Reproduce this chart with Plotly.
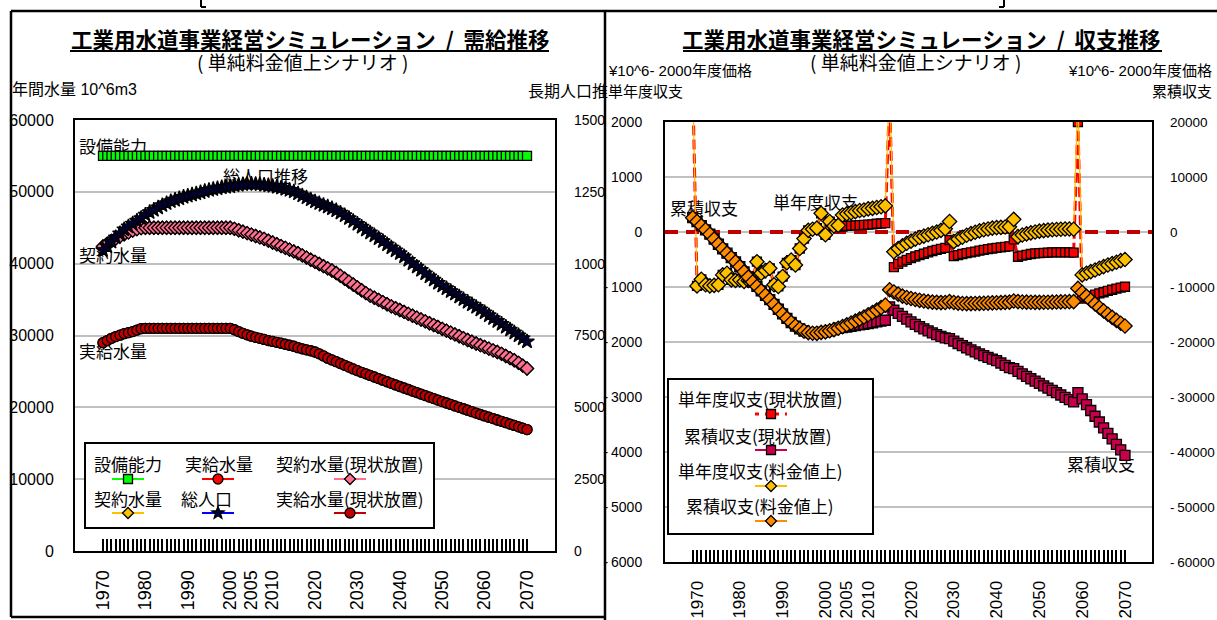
import math
import plotly.graph_objects as go

W, H = 1217, 620
JP = "Noto Sans CJK JP"
LAT = "Liberation Sans, Arial, Noto Sans CJK JP"

# ---------------- 需給推移 (left panel) ----------------
YEARS = list(range(1970, 2071))
TICK_YEARS = [1970, 1980, 1990, 2000, 2005, 2010, 2020, 2030, 2040, 2050, 2060, 2070]

CAPACITY = [55000] * len(YEARS)  # 設備能力

SUPPLY_BASE = [  # 実給水量(現状放置)
    29000, 29300, 29600, 29850, 30050, 30250, 30400, 30550, 30750, 30950,
    31000, 31000, 31000, 31000, 31000, 31000, 31000, 31000, 31000, 31000,
    31000, 31000, 31000, 31000, 31000, 31000, 31000, 31000, 31000, 31000,
    31000, 30800, 30550, 30300, 30100, 29900, 29750, 29600, 29450, 29300,
    29180, 29050, 28920, 28780, 28640, 28500, 28300, 28150, 28000, 27880,
    27700, 27450, 27150, 26850, 26600, 26350, 26100, 25850, 25600, 25350,
    25100, 24880, 24660, 24440, 24220, 24000, 23780, 23560, 23340, 23120,
    22900, 22690, 22480, 22270, 22060, 21850, 21640, 21430, 21220, 21010,
    20800, 20600, 20400, 20200, 20000, 19800, 19600, 19400, 19200, 19000,
    18810, 18620, 18430, 18240, 18050, 17860, 17670, 17480, 17290, 17100,
    16900,
]
SUPPLY_TARIFF = SUPPLY_BASE  # 実給水量 (same demand in both scenarios)

CONTRACT_BASE = [  # 契約水量(現状放置)
    42400, 42800, 43150, 43500, 43800, 44100, 44350, 44600, 44800, 44950,
    45000, 45000, 45000, 45000, 45000, 45000, 45000, 45000, 45000, 45000,
    45000, 45000, 45000, 45000, 45000, 45000, 45000, 45000, 45000, 45000,
    45000, 44850, 44650, 44450, 44250, 44050, 43850, 43650, 43450, 43200,
    42950, 42700, 42450, 42200, 41950, 41700, 41450, 41150, 40850, 40550,
    40250, 39950, 39650, 39350, 39050, 38700, 38300, 37900, 37500, 37100,
    36700, 36300, 35900, 35550, 35250, 34950, 34650, 34350, 34050, 33800,
    33550, 33280, 33010, 32750, 32490, 32230, 31970, 31710, 31450, 31190,
    30930, 30670, 30410, 30150, 29890, 29630, 29370, 29130, 28890, 28650,
    28410, 28170, 27930, 27700, 27450, 27150, 26850, 26550, 26200, 25800,
    25400,
]
CONTRACT_TARIFF = CONTRACT_BASE  # 契約水量

POPULATION = [  # 総人口 (10^4 persons, right axis)
    10470, 10600, 10760, 10910, 11050, 11190, 11290, 11390, 11490, 11580,
    11700, 11790, 11870, 11950, 12030, 12100, 12170, 12220, 12270, 12320,
    12360, 12400, 12440, 12480, 12520, 12560, 12590, 12620, 12650, 12670,
    12690, 12720, 12740, 12760, 12770, 12780, 12770, 12760, 12740, 12720,
    12700, 12670, 12640, 12600, 12560, 12510, 12440, 12370, 12300, 12230,
    12160, 12100, 12040, 11980, 11920, 11850, 11770, 11680, 11580, 11480,
    11380, 11280, 11180, 11080, 10980, 10880, 10780, 10670, 10560, 10460,
    10360, 10250, 10130, 10010, 9890, 9780, 9660, 9550, 9440, 9330,
    9230, 9140, 9040, 8950, 8850, 8760, 8670, 8580, 8490, 8400,
    8300, 8200, 8100, 8000, 7900, 7800, 7700, 7600, 7500, 7400,
    7290,
]

# ---------------- 収支推移 (right panel) ----------------
YEARS_R = list(range(1969, 2071))

ANNUAL_BASE = [  # 単年度収支(現状放置)
    2700,
    -980, -860, -960, -980, -970, -960, -780, -750, -870, -880,
    -870, -900, -880, -850, -540, -750, -700, -660, -960, -990,
    -810, -560, -510, -600, -300, -120, 30, 50, 70, 340,
    -50, 190, 110, 120, 100, 110, 115, 120, 125, 130,
    135, 140, 150, 155, 160, 2500, -640, -580, -540, -505,
    -475, -445, -420, -395, -370, -345, -325, -305, -290, -145,
    -440, -420, -400, -385, -370, -355, -340, -325, -310, -300,
    -290, -280, -270, -260, -135, -450, -430, -415, -400, -390,
    -385, -380, -375, -372, -370, -370, -370, -372, -375, 2000,
    -1210, -1190, -1165, -1140, -1115, -1095, -1070, -1050, -1030, -1010,
    -995,
]

ANNUAL_TARIFF = [  # 単年度収支(料金値上)
    2700,
    -980, -860, -960, -980, -970, -960, -780, -750, -870, -880,
    -870, -900, -880, -850, -540, -750, -700, -660, -960, -990,
    -810, -560, -510, -600, -300, -120, 30, 50, 70, 340,
    -50, 190, 110, 120, 310, 330, 350, 370, 390, 400,
    420, 430, 445, 460, 475, 2800, -360, -300, -250, -205,
    -165, -130, -100, -75, -50, -25, 0, 30, 60, 190,
    -175, -130, -95, -60, -30, -5, 20, 40, 55, 70,
    80, 85, 90, 95, 230, -85, -55, -35, -15, 0,
    15, 25, 35, 40, 45, 50, 55, 55, 50, 2500,
    -780, -750, -720, -690, -660, -630, -600, -575, -550, -520,
    -500,
]

CUM_BASE = [  # 累積収支(現状放置)
    2600,
    1900, 1150, 400, -400, -1290, -2230, -3050, -3850, -4650, -5450,
    -6300, -7250, -8200, -9100, -9900, -10700, -11500, -12300, -13150, -14050,
    -14900, -15700, -16450, -17100, -17600, -18000, -18300, -18400, -18420, -18250,
    -18150, -17950, -17750, -17500, -17380, -17270, -17150, -17030, -16900, -16780,
    -16640, -16500, -16350, -16200, -16050, -13600, -14230, -14800, -15350, -15850,
    -16330, -16780, -17200, -17600, -17980, -18330, -18660, -18970, -19260, -19400,
    -19850, -20270, -20670, -21050, -21430, -21800, -22150, -22480, -22800, -23100,
    -23400, -23820, -24240, -24660, -24850, -25330, -25790, -26240, -26680, -27110,
    -27540, -27960, -28380, -28800, -29220, -29640, -30060, -30480, -30900, -29200,
    -30350, -31400, -32450, -33500, -34550, -35600, -36600, -37600, -38600, -39600,
    -40600,
]

CUM_TARIFF = [  # 累積収支(料金値上)
    2600,
    1900, 1150, 400, -400, -1290, -2230, -3050, -3850, -4650, -5450,
    -6300, -7250, -8200, -9100, -9900, -10700, -11500, -12300, -13150, -14050,
    -14900, -15700, -16450, -17100, -17600, -18000, -18300, -18400, -18420, -18250,
    -18150, -17950, -17750, -17500, -17200, -16880, -16550, -16200, -15830, -15450,
    -15050, -14630, -14200, -13750, -13300, -10500, -10900, -11300, -11650, -11900,
    -12100, -12280, -12420, -12550, -12650, -12750, -12800, -12830, -12820, -12650,
    -12820, -12930, -13000, -13020, -13020, -13000, -12980, -12950, -12920, -12890,
    -12860, -12830, -12800, -12760, -12550, -12650, -12720, -12760, -12780, -12790,
    -12790, -12780, -12770, -12750, -12730, -12710, -12690, -12670, -12650, -10250,
    -11000, -11700, -12400, -13080, -13730, -14350, -14950, -15520, -16070, -16600,
    -17100,
]

# ---------------- geometry helpers (pixel -> paper) ----------------
def px(x):
    return x / W


def py(y):
    return 1 - y / H


# plot-area boxes in pixels: left, right, top, bottom
L_BOX = (75, 555, 120, 551)
R_BOX = (665, 1152, 122, 562)
L_XR = [1963.4, 2076.6]
R_XR = [1962.52, 2076.31]
L_YR = [0, 60000]
R_YR = [-6000, 2000]


def to_data(box, xr, yr, x, y):
    l, r, t, b = box
    dx = xr[0] + (x - l) / (r - l) * (xr[1] - xr[0])
    dy = yr[0] + (b - y) / (b - t) * (yr[1] - yr[0])
    return dx, dy


def tick_text(years):
    return [str(y) if y in TICK_YEARS else "" for y in years]


# ---------------- traces ----------------
fig = go.Figure()

BLK = dict(color="black", width=1.3)


def series(x, y, name, color, symbol, size, xa, ya, lw=2, dash="solid", mcolor=None):
    fig.add_trace(go.Scatter(
        x=x, y=y, name=name, mode="lines+markers", showlegend=False,
        xaxis=xa, yaxis=ya,
        line=dict(color=color, width=lw, dash=dash),
        marker=dict(symbol=symbol, size=size, color=mcolor or color, line=BLK),
        hoverinfo="skip",
    ))


series(YEARS, CONTRACT_TARIFF, "契約水量", "#ffc000", "diamond", 10, "x", "y")
series(YEARS, CAPACITY, "設備能力", "#00ff00", "square", 9, "x", "y")
series(YEARS, SUPPLY_TARIFF, "実給水量", "#ff0000", "circle", 10, "x", "y")
series(YEARS, CONTRACT_BASE, "契約水量(現状放置)", "#ff6f8f", "diamond", 10, "x", "y")
series(YEARS, SUPPLY_BASE, "実給水量(現状放置)", "#c00000", "circle", 10, "x", "y")
series(YEARS, POPULATION, "総人口", "#0000ff", "star", 11, "x", "y2", mcolor="#000040")

series(YEARS_R, ANNUAL_BASE, "単年度収支(現状放置)", "#ff0000", "square", 9, "x2", "y3",
       lw=3, dash="10px,4px")
series(YEARS_R, CUM_BASE, "累積収支(現状放置)", "#c8004b", "square", 10, "x2", "y4", lw=1.2)
series(YEARS_R, ANNUAL_TARIFF, "単年度収支(料金値上)", "#ffc000", "diamond", 11, "x2", "y3", lw=1.2)
series(YEARS_R, CUM_TARIFF, "累積収支(料金値上)", "#ff8c00", "diamond", 11, "x2", "y4", lw=1.2)

# ---------------- axes ----------------
FRAME = dict(showline=True, linecolor="black", linewidth=2, mirror=True, zeroline=False)
GRID = dict(showgrid=True, gridcolor="#c0c0c0", gridwidth=2)
XTICKS = dict(tickmode="array", tickangle=-90, ticks="inside", ticklen=12, tickwidth=1.5,
              tickcolor="black", showgrid=False, ticklabelstandoff=10)


def ytext(vals):
    return [("-\u2009" + str(-v)) if v < 0 else str(v) for v in vals]


L_YT = list(range(0, 60001, 10000))
L_Y2T = list(range(0, 15001, 2500))
R_YT = list(range(-6000, 2001, 1000))
R_Y2T = list(range(-60000, 20001, 10000))

fig.update_layout(
    xaxis=dict(domain=[px(L_BOX[0]), px(L_BOX[1])], range=L_XR, anchor="y",
               tickvals=YEARS, ticktext=tick_text(YEARS),
               tickfont=dict(family=LAT, size=18, color="black"), **XTICKS, **FRAME),
    yaxis=dict(domain=[py(L_BOX[3]), py(L_BOX[2])], range=L_YR, anchor="x",
               tickmode="array", tickvals=L_YT, ticktext=ytext(L_YT), ticks="",
               ticklabelstandoff=16, tickfont=dict(family=LAT, size=16, color="black"),
               **GRID, **FRAME),
    yaxis2=dict(overlaying="y", side="right", anchor="x", range=[0, 15000],
                tickmode="array", tickvals=L_Y2T,
                ticktext=["0", "2500", "5000", "7500", "1000", "1250", "1500"],
                ticks="", ticklabelstandoff=18, showgrid=False, zeroline=False,
                showline=False, tickfont=dict(family=LAT, size=14, color="black")),
    xaxis2=dict(domain=[px(R_BOX[0]), px(R_BOX[1])], range=R_XR, anchor="y3",
                tickvals=YEARS_R, ticktext=tick_text(YEARS_R),
                tickfont=dict(family=LAT, size=17, color="black"), **XTICKS, **FRAME),
    yaxis3=dict(domain=[py(R_BOX[3]), py(R_BOX[2])], range=R_YR, anchor="x2",
                tickmode="array", tickvals=R_YT, ticktext=ytext(R_YT), ticks="",
                ticklabelstandoff=18, tickfont=dict(family=LAT, size=14, color="black"),
                **GRID, **FRAME),
    yaxis4=dict(overlaying="y3", side="right", anchor="x2", range=[-60000, 20000],
                tickmode="array", tickvals=R_Y2T, ticktext=ytext(R_Y2T),
                ticks="", ticklabelstandoff=17, showgrid=False, zeroline=False,
                showline=False, tickfont=dict(family=LAT, size=13.5, color="black")),
)

# ---------------- shapes ----------------
shapes = []

# zero line of the balance chart (above the grid, beneath the data)
shapes.append(dict(type="line", xref="x2", yref="y3", x0=R_XR[0], x1=R_XR[1], y0=0, y1=0,
                   line=dict(color="#c00000", width=4, dash="13px,8px"), layer="between"))


# in-plot captions, drawn above the grid but beneath the data
def caption(text, box, xr, yr, xref, yref, x, y, size=17):
    x0, y0 = to_data(box, xr, yr, x, y + 10)
    x1, y1 = to_data(box, xr, yr, x + 120, y - 10)
    shapes.append(dict(type="rect", xref=xref, yref=yref, x0=x0, x1=x1, y0=y0, y1=y1,
                       line=dict(width=0), fillcolor="rgba(0,0,0,0)", layer="between",
                       label=dict(text=text, textposition="middle left", padding=0,
                                  font=dict(family=JP, size=size, color="black"))))


caption("設備能力", L_BOX, L_XR, L_YR, "x", "y", 76, 148)
caption("総人口推移", L_BOX, L_XR, L_YR, "x", "y", 220, 178)
caption("契約水量", L_BOX, L_XR, L_YR, "x", "y", 76, 257)
caption("実給水量", L_BOX, L_XR, L_YR, "x", "y", 76, 353)
caption("累積収支", R_BOX, R_XR, R_YR, "x2", "y3", 667, 210)
caption("単年度収支", R_BOX, R_XR, R_YR, "x2", "y3", 770, 204)
caption("累積収支", R_BOX, R_XR, R_YR, "x2", "y3", 1064, 466)


def pline(x0, y0, x1, y1, color="black", width=2.5, dash="solid"):
    shapes.append(dict(type="line", xref="paper", yref="paper",
                       x0=px(x0), y0=py(y0), x1=px(x1), y1=py(y1),
                       line=dict(color=color, width=width, dash=dash), layer="above"))


# panel frames
pline(11, 11, 1217, 11)
pline(11, 11, 11, 617)
pline(11, 617, 605, 617)
pline(605, 11, 605, 620)
# clipped bracket marks along the top edge
pline(201, 0, 201, 7, width=2)
pline(201, 7, 206, 7, width=2)
pline(1004, 0, 1004, 7, width=2)
pline(999, 7, 1004, 7, width=2)
# title underlines
pline(70, 51, 549, 51, width=2)
pline(683, 51, 1162, 51, width=2)


def prect(x0, y0, x1, y1):
    shapes.append(dict(type="rect", xref="paper", yref="paper",
                       x0=px(x0), y0=py(y1), x1=px(x1), y1=py(y0),
                       line=dict(color="black", width=2), fillcolor="white", layer="above"))


def poly(points):
    return "M " + " L ".join(f"{px(a):.5f},{py(b):.5f}" for a, b in points) + " Z"


def marker_shape(kind, cx, cy, fill):
    edge = dict(color="black", width=1.3)
    if kind == "square":
        shapes.append(dict(type="rect", xref="paper", yref="paper",
                           x0=px(cx - 4.5), x1=px(cx + 4.5), y0=py(cy + 4.5), y1=py(cy - 4.5),
                           fillcolor=fill, line=edge, layer="above"))
    elif kind == "circle":
        shapes.append(dict(type="circle", xref="paper", yref="paper",
                           x0=px(cx - 5), x1=px(cx + 5), y0=py(cy + 5), y1=py(cy - 5),
                           fillcolor=fill, line=edge, layer="above"))
    elif kind == "diamond":
        pts = [(cx, cy - 5.5), (cx + 5.5, cy), (cx, cy + 5.5), (cx - 5.5, cy)]
        shapes.append(dict(type="path", xref="paper", yref="paper", path=poly(pts),
                           fillcolor=fill, line=edge, layer="above"))
    elif kind == "star":
        pts = []
        for k in range(10):
            ang = -math.pi / 2 + k * math.pi / 5
            r = 6.5 if k % 2 == 0 else 2.8
            pts.append((cx + r * math.cos(ang), cy + r * math.sin(ang)))
        shapes.append(dict(type="path", xref="paper", yref="paper", path=poly(pts),
                           fillcolor=fill, line=edge, layer="above"))


annotations = []


def ann(text, x, y, size, xanchor="center", family=JP, bold=False):
    annotations.append(dict(text=f"<b>{text}</b>" if bold else text,
                            x=px(x), y=py(y), xref="paper", yref="paper",
                            xanchor=xanchor, yanchor="middle", showarrow=False,
                            font=dict(family=family, size=size, color="black")))


def legend_entry(text, tx, ty, mx, my, color, kind, fill, dash="solid", lw=2):
    ann(text, tx, ty, 17)
    pline(mx - 16, my, mx + 16, my, color=color, width=lw, dash=dash)
    marker_shape(kind, mx, my, fill)


# left legend
prect(85, 443, 434, 528)
legend_entry("設備能力", 128, 463, 128, 479, "#00ff00", "square", "#00ff00")
legend_entry("実給水量", 219, 463, 218, 479, "#ff0000", "circle", "#ff0000")
legend_entry("契約水量(現状放置)", 350, 463, 350, 479, "#ff6f8f", "diamond", "#ff6f8f")
legend_entry("契約水量", 128, 498, 128, 513, "#ffc000", "diamond", "#ffc000")
legend_entry("総人口", 206, 498, 218, 513, "#0000ff", "star", "#000040")
legend_entry("実給水量(現状放置)", 350, 498, 350, 513, "#c00000", "circle", "#c00000")

# right legend
prect(668, 379, 873, 534)
legend_entry("単年度収支(現状放置)", 760, 398, 771, 414, "#ff0000", "square", "#ff0000",
             dash="4px,6px", lw=3)
legend_entry("累積収支(現状放置)", 758, 435, 771, 450, "#c8004b", "square", "#c8004b")
legend_entry("単年度収支(料金値上)", 760, 470, 771, 486, "#ffc000", "diamond", "#ffc000")
legend_entry("累積収支(料金値上)", 760, 505, 771, 521, "#ff8c00", "diamond", "#ff8c00")

# titles
ann("工業用水道事業経営シミュレーション &nbsp;/&nbsp; 需給推移", 310, 39, 21.5, bold=True)
ann("( 単純料金値上シナリオ )", 302, 61, 19)
ann("工業用水道事業経営シミュレーション &nbsp;/&nbsp; 収支推移", 922, 39, 21.5, bold=True)
ann("( 単純料金値上シナリオ )", 916, 61, 19)

# axis captions
ann("年間水量 10^6m3", 10, 90, 16, xanchor="left", family=LAT)
ann("長期人口推", 526, 90, 16, xanchor="left")
ann("¥10^6- 2000年度価格", 606, 70, 15, xanchor="left", family=LAT)
ann("単年度収支", 606, 91, 15, xanchor="left")
ann("¥10^6- 2000年度価格", 1214, 70, 15, xanchor="right", family=LAT)
ann("累積収支", 1214, 91, 15, xanchor="right")

fig.update_layout(
    width=W, height=H, autosize=False,
    margin=dict(l=0, r=0, t=0, b=0, pad=0),
    paper_bgcolor="white", plot_bgcolor="white",
    template="none", showlegend=False,
    shapes=shapes, annotations=annotations,
    font=dict(family=LAT, color="black"),
)

fig.write_html("out.html")
